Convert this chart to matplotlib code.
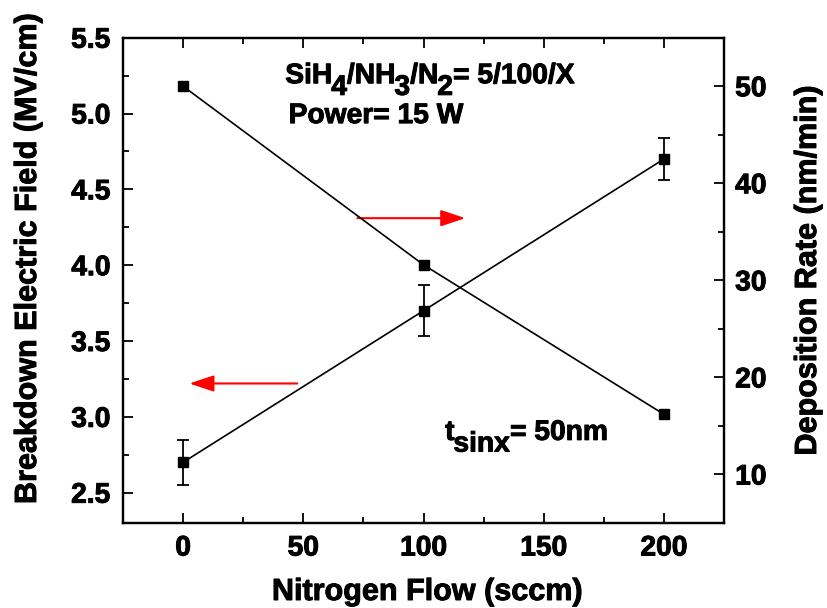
import matplotlib
matplotlib.use("Agg")
import matplotlib.pyplot as plt
import matplotlib.patheffects as pe
from matplotlib.ticker import MultipleLocator

# Data
flow = [0, 100, 200]                       # Nitrogen flow (sccm)
breakdown = [2.70, 3.70, 4.70]             # Breakdown electric field (MV/cm)
breakdown_err = [0.15, 0.17, 0.14]
deposition = [50.0, 31.6, 16.2]            # Deposition rate (nm/min)

x_ticks = [0, 50, 100, 150, 200]
left_ticks = [2.5, 3.0, 3.5, 4.0, 4.5, 5.0, 5.5]
right_ticks = [10, 20, 30, 40, 50]

FONT = "Liberation Sans"
plt.rcParams["font.family"] = FONT
plt.rcParams["font.weight"] = "bold"

HEAVY = [pe.withStroke(linewidth=0.7, foreground="black")]
TICK_SIZE = 20.3
LABEL_SIZE = 22
NOTE_SIZE = 20.3

fig = plt.figure(figsize=(8.27, 6.08), dpi=100)
ax = fig.add_axes([0.1487, 0.1398, 0.7268, 0.7982])
ax2 = ax.twinx()

# Breakdown field with error bars (left axis)
ax.errorbar(flow, breakdown, yerr=breakdown_err, color="black", lw=1.2,
            marker="s", ms=7, mfc="black", mec="black",
            capsize=4.5, capthick=1.3, elinewidth=1.3, zorder=3)

# Deposition rate (right axis)
ax2.plot(flow, deposition, color="black", lw=1.2, marker="s", ms=7,
         mfc="black", mec="black", zorder=3)

ax.set_xlim(-25, 225)
ax.set_ylim(2.3, 5.5)
ax2.set_ylim(5, 55)

ax.set_xticks(x_ticks)
ax.set_xticklabels([str(v) for v in x_ticks])
ax.xaxis.set_minor_locator(MultipleLocator(25))
ax.set_yticks(left_ticks)
ax.set_yticklabels([f"{v:.1f}" for v in left_ticks])
ax.yaxis.set_minor_locator(MultipleLocator(0.25))
ax2.set_yticks(right_ticks)
ax2.set_yticklabels([str(v) for v in right_ticks])
ax2.yaxis.set_minor_locator(MultipleLocator(5))

for a in (ax, ax2):
    for s in a.spines.values():
        s.set_linewidth(1.6)

ax.tick_params(axis="x", which="major", direction="in", length=7, width=1.3,
               top=True, labelsize=TICK_SIZE, pad=9)
ax.tick_params(axis="x", which="minor", direction="in", length=4, width=1.3,
               top=True)
ax.tick_params(axis="y", which="major", direction="in", length=7, width=1.3,
               labelsize=TICK_SIZE, pad=9)
ax.tick_params(axis="y", which="minor", direction="in", length=4, width=1.3)
ax2.tick_params(axis="y", which="major", direction="in", length=7, width=1.3,
                labelsize=TICK_SIZE, pad=8)
ax2.tick_params(axis="y", which="minor", direction="in", length=4, width=1.3)
for lab in ax.get_xticklabels() + ax.get_yticklabels() + ax2.get_yticklabels():
    lab.set_fontweight("bold")
    lab.set_path_effects(HEAVY)

# Axis titles
fig.text(28 / 827, 1 - 259 / 608, "Breakdown Electric Field (MV/cm)",
         rotation=90, ha="center", va="center", fontsize=LABEL_SIZE,
         fontweight="bold", path_effects=HEAVY)
fig.text(808 / 827, 1 - 271 / 608, "Deposition Rate (nm/min)",
         rotation=90, ha="center", va="center", fontsize=LABEL_SIZE,
         fontweight="bold", path_effects=HEAVY)
fig.text(427 / 827, 1 - 592 / 608, "Nitrogen Flow (sccm)",
         ha="center", va="center", fontsize=LABEL_SIZE, fontweight="bold",
         path_effects=HEAVY)


def rich_text(axis, x, y, parts, size=NOTE_SIZE):
    """Draw text segments on one line; sub=True lowers a segment."""
    prev = None
    base_dy = 0
    for txt, sub in parts:
        dy = -8.4 if sub else 0
        dx = -0.8 if sub else 0
        if prev is None:
            prev = axis.annotate(txt, xy=(x, y), xycoords="data",
                                 xytext=(0, dy), textcoords="offset points",
                                 ha="left", va="baseline", fontsize=size,
                                 fontweight="bold", path_effects=HEAVY)
        else:
            prev = axis.annotate(txt, xy=(1, 0), xycoords=prev,
                                 xytext=(dx, dy - base_dy),
                                 textcoords="offset points",
                                 ha="left", va="bottom", fontsize=size,
                                 fontweight="bold", path_effects=HEAVY)
        base_dy = dy


rich_text(ax, 42.5, 5.20, [("SiH", False), ("4", True), ("/NH", False),
                           ("3", True), ("/N", False), ("2", True),
                           ("= 5/100/X", False)])
rich_text(ax, 43.9, 4.937, [("Power= 15 W", False)])
rich_text(ax, 109.0, 2.848, [("t", False), ("sinx", True), ("= 50nm", False)])

# Red arrows indicating which axis each curve belongs to
arrow = dict(arrowstyle="-|>,head_length=1.5,head_width=0.5", color="red",
             lw=1.5, mutation_scale=10, shrinkA=0, shrinkB=0)
ax.annotate("", xy=(117.4, 4.31), xytext=(72.5, 4.31), arrowprops=arrow)
ax.annotate("", xy=(2.6, 3.22), xytext=(47.5, 3.22), arrowprops=arrow)

fig.savefig("out.png", dpi=100, facecolor="white")
